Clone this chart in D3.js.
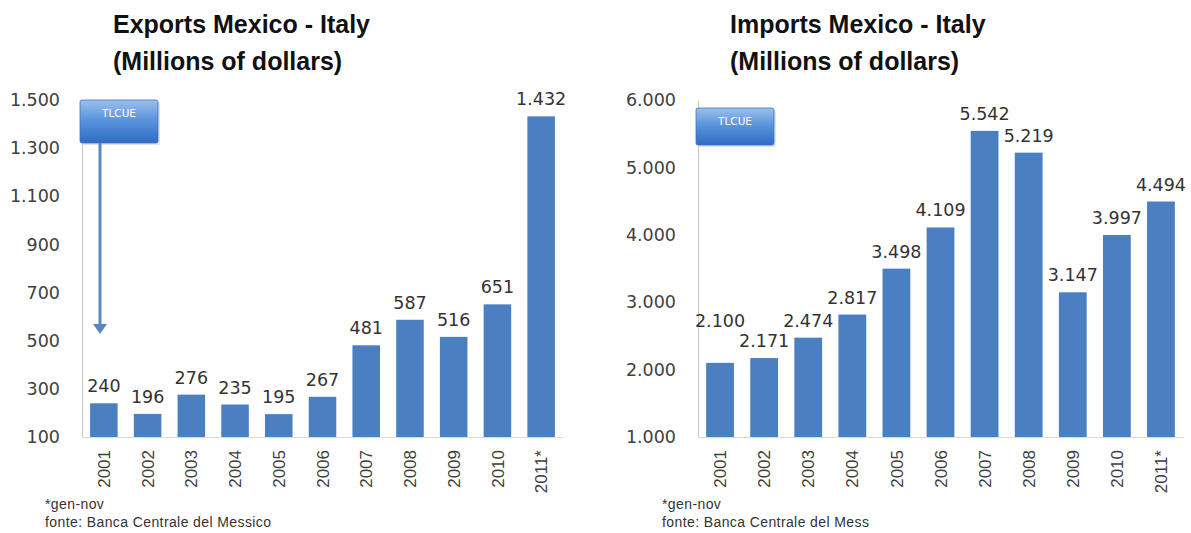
<!DOCTYPE html>
<html>
<head>
<meta charset="utf-8">
<script src="https://cdn.jsdelivr.net/npm/d3@7"></script>
<style>
  body { margin: 0; background: #fff; }
  svg text { font-family: "DejaVu Sans", sans-serif; }
  .title { font-family: "Liberation Sans", Arial, sans-serif; font-weight: 700; font-size: 25px; fill: #111; }
  .tick text { fill: #404040; }
  .note { font-family: "Liberation Sans", sans-serif; font-size: 14px; letter-spacing: 0.4px; fill: #333; }
</style>
</head>
<body>
<svg width="1191" height="533"></svg>
<script>
const years = ["2001", "2002", "2003", "2004", "2005", "2006", "2007", "2008", "2009", "2010", "2011*"];
const exportsValues = [240, 196, 276, 235, 195, 267, 481, 587, 516, 651, 1432];
const importsValues = [2100, 2171, 2474, 2817, 3498, 4109, 5542, 5219, 3147, 3997, 4494];
const exportTicks = [100, 300, 500, 700, 900, 1100, 1300, 1500];
const importTicks = [1000, 2000, 3000, 4000, 5000, 6000];
const exportTitle = ["Exports Mexico - Italy", "(Millions of dollars)"];
const importTitle = ["Imports Mexico - Italy", "(Millions of dollars)"];
const notes = ["*gen-nov", "fonte: Banca Centrale del Messico"];
const notesRight = ["*gen-nov", "fonte: Banca Centrale del Mess"];

const svg = d3.select("svg");
const fmt = d3.formatLocale({decimal: ",", thousands: ".", grouping: [3], currency: ["", ""]}).format(",d");

const defs = svg.append("defs");
const grad = defs.append("linearGradient").attr("id", "boxGrad")
    .attr("x1", 0).attr("y1", 0).attr("x2", 0).attr("y2", 1);
grad.append("stop").attr("offset", "0%").attr("stop-color", "#9cc0ec");
grad.append("stop").attr("offset", "45%").attr("stop-color", "#5b95dc");
grad.append("stop").attr("offset", "100%").attr("stop-color", "#2f6cc4");

function drawChart(opt) {
    const g = svg.append("g");
    const x = d3.scaleBand().domain(years).range([opt.left, opt.right])
        .paddingInner(0.37).paddingOuter(0.185);
    const y = d3.scaleLinear().domain(opt.domain).range([437, 100]);

    // title
    const t = g.append("text").attr("class", "title").attr("x", opt.titleX).attr("y", 33);
    t.append("tspan").attr("x", opt.titleX).text(opt.title[0]);
    t.append("tspan").attr("x", opt.titleX).attr("y", 70).text(opt.title[1]);

    // y axis
    const ya = g.append("g").attr("transform", `translate(${opt.left},0)`)
        .call(d3.axisLeft(y).tickValues(opt.ticks).tickSize(0).tickPadding(22).tickFormat(fmt));
    ya.select(".domain").attr("stroke", "#c8c8c8");
    ya.selectAll("text").style("font-size", "17.5px");

    // bars
    g.append("g").selectAll("rect")
        .data(opt.values)
        .enter().append("rect")
        .attr("x", (d, i) => x(years[i]))
        .attr("y", d => y(d))
        .attr("width", x.bandwidth())
        .attr("height", d => y(opt.domain[0]) - y(d))
        .attr("fill", "#4a7fc1");

    // x axis
    const xa = g.append("g").attr("transform", "translate(0,437)")
        .call(d3.axisBottom(x).tickSize(0));
    xa.select(".domain").attr("stroke", "#e8d8c8");
    xa.selectAll("text")
        .attr("transform", "rotate(-90)")
        .attr("text-anchor", "end")
        .attr("x", -13).attr("y", 0).attr("dy", "0.36em")
        .style("font-family", "'Liberation Sans', sans-serif")
        .style("font-size", "17px")
        .attr("fill", "#333");

    // value labels
    g.append("g").selectAll("text")
        .data(opt.values)
        .enter().append("text")
        .attr("x", (d, i) => x(years[i]) + x.bandwidth() / 2)
        .attr("y", (d, i) => y(d) - 11 - (opt.raiseFirst && i === 0 ? 25 : 0))
        .attr("text-anchor", "middle")
        .style("font-size", "17.5px")
        .attr("fill", "#333")
        .text(d => fmt(d));

    // TLCUE box
    const b = opt.box;
    g.append("rect").attr("x", b.x + 2).attr("y", b.y + 2).attr("width", 78).attr("height", b.h)
        .attr("rx", 2).attr("fill", "#e4e4e4");
    g.append("rect").attr("x", b.x).attr("y", b.y).attr("width", 78).attr("height", b.h)
        .attr("rx", 2).attr("fill", "url(#boxGrad)").attr("stroke", "#3d74c0").attr("stroke-width", 0.8);
    g.append("text").attr("x", b.x + 39).attr("y", b.y + 17).attr("text-anchor", "middle")
        .style("font-size", "10.5px").attr("fill", "#fff").text("TLCUE");

    if (opt.arrow) {
        g.append("line").attr("x1", b.x + 20).attr("x2", b.x + 20)
            .attr("y1", b.y + b.h).attr("y2", opt.arrow - 8)
            .attr("stroke", "#5b86c4").attr("stroke-width", 3);
        g.append("path")
            .attr("d", `M${b.x + 13},${opt.arrow - 10} L${b.x + 27},${opt.arrow - 10} L${b.x + 20},${opt.arrow} Z`)
            .attr("fill", "#5b86c4");
    }

    // notes
    opt.notes.forEach((n, i) => {
        g.append("text").attr("class", "note").attr("x", opt.noteX).attr("y", 509 + i * 18).text(n);
    });
}

drawChart({
    left: 82, right: 563, domain: [100, 1500], ticks: exportTicks, values: exportsValues,
    title: exportTitle, titleX: 113, notes: notes, noteX: 45,
    box: {x: 80, y: 100, h: 43}, arrow: 334
});

drawChart({
    left: 698, right: 1183, domain: [1000, 6000], ticks: importTicks, values: importsValues,
    title: importTitle, titleX: 730, notes: notesRight, noteX: 662,
    box: {x: 696, y: 108, h: 37}, raiseFirst: true
});
</script>
</body>
</html>
